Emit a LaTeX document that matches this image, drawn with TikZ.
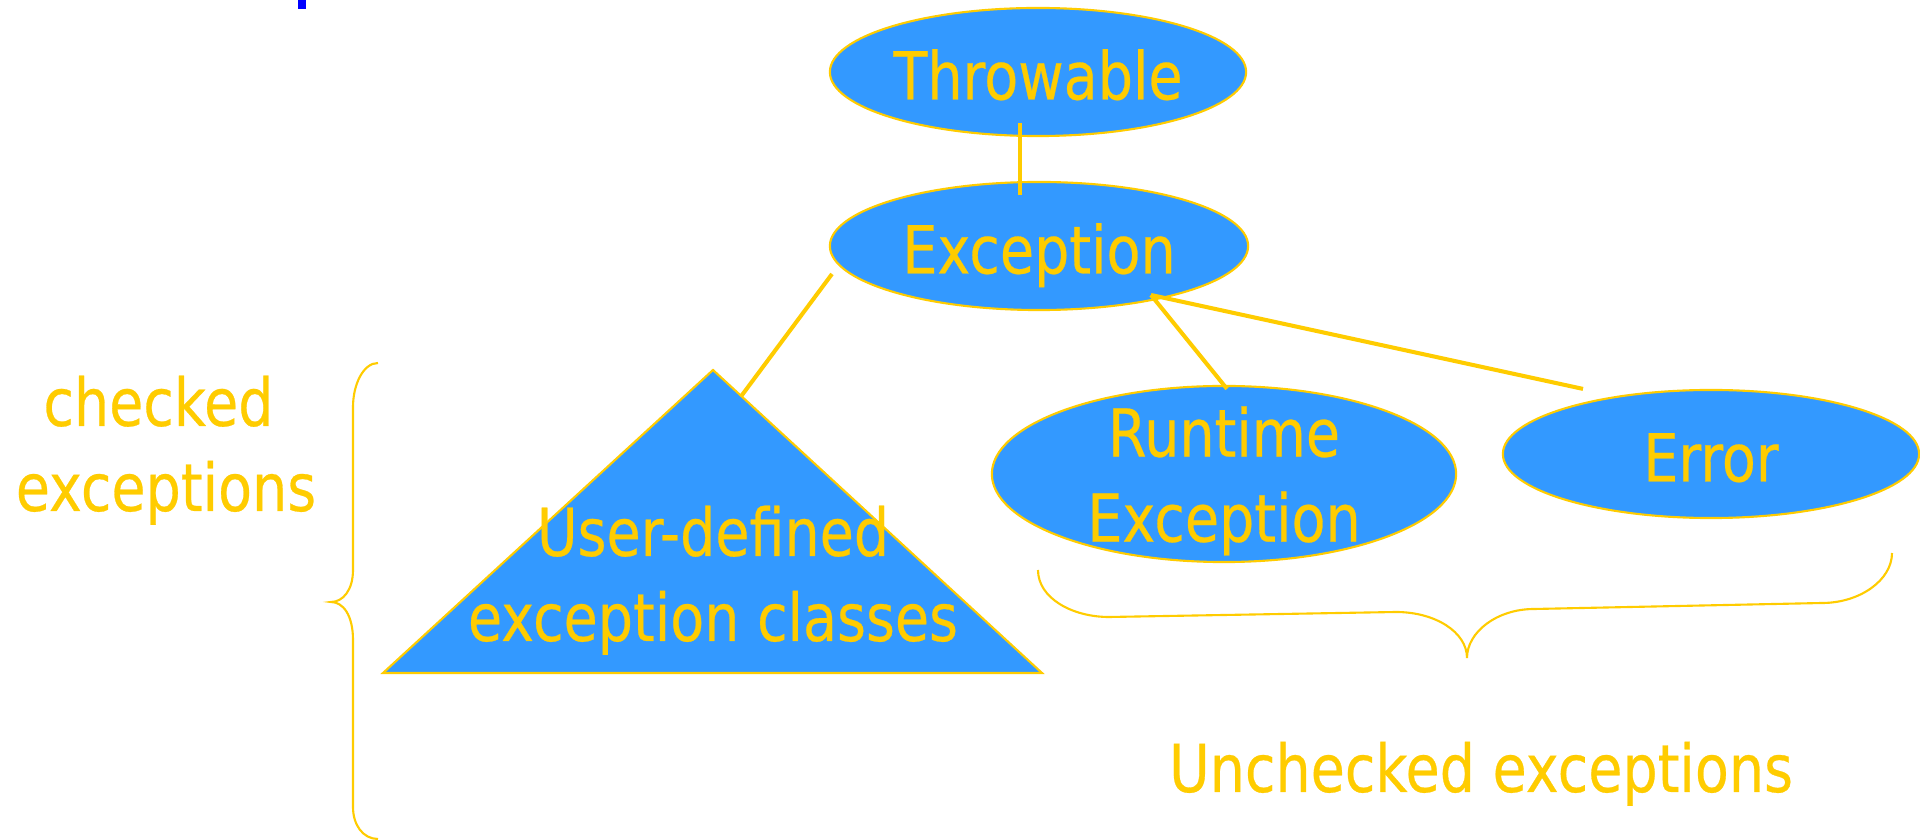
\documentclass[tikz,border=0pt]{standalone}
\usepackage{fontspec}
\setmainfont{DejaVu Sans}[FakeStretch=0.84,FakeBold=0.4]
\usetikzlibrary{shapes.geometric,calc}
\definecolor{fillblue}{HTML}{3399FF}
\definecolor{gold}{HTML}{FFCC00}
\definecolor{markblue}{HTML}{0000FF}
\newcommand\bigfont{\fontsize{18.8pt}{24.2pt}\selectfont}
\tikzset{
  cls/.style={ellipse, fill=fillblue, draw=gold, line width=0.6pt, inner sep=0pt,
              text=gold, font=\bigfont, text height=15.6pt, text depth=0pt},
  twoline/.style={align=center, text height=38.5pt, text depth=0pt, inner ysep=-14pt},
  link/.style={draw=gold, line width=1.15pt},
  bracepath/.style={draw=gold, line width=0.6pt},
  lbl/.style={text=gold, font=\bigfont, align=center, inner sep=0pt},
}
\begin{document}
\begin{tikzpicture}[x=0.01cm, y=-0.01cm]
\useasboundingbox (0,0) rectangle (1920,840);
\fill[white] (0,0) rectangle (1920,840);
% small blue mark at the top edge
\fill[markblue] (298,0) rectangle (306,9);

% triangle
\coordinate (apex) at (713,370);
\coordinate (bl) at (383,673);
\coordinate (br) at (1042,673);
\path[fill=fillblue, draw=gold, line width=0.6pt] (apex) -- (bl) -- (br) -- cycle;
\node[lbl, anchor=base] (ud) at (713,641) {User-defined\\exception classes};

% class ellipses
\node[cls, minimum width=4.16cm, minimum height=1.28cm] (thr) at (1038,72) {Throwable};
\node[cls, minimum width=4.18cm, minimum height=1.28cm] (exc) at (1039,246) {Exception};
\node[cls, twoline, minimum width=4.64cm, minimum height=1.76cm] (rt) at (1224,474) {Runtime\\Exception};
\node[cls, minimum width=4.16cm, minimum height=1.28cm] (err) at (1711,454) {Error};

% connectors
\coordinate (meet) at ($(exc.center)+(112,49)$);
\draw[link] ($(thr.south)+(-18,-14)$) -- ($(exc.north)+(-19,14)$);
\draw[link] ($(exc.center)+(-207,28)$) -- ($(apex)!0.086!(br)$);
\draw[link] ($(rt.north)+(3,4)$) -- (meet);
\draw[link] ($(err.north)+(-128,0)$) -- (meet);

% left brace
\draw[bracepath] (378,363) .. controls (363,363) and (353,385) .. (353,407)
  -- (353,570) .. controls (353,590) and (343,602) .. (331,602)
  .. controls (343,602) and (353,615) .. (353,640)
  -- (353,807) .. controls (353,825) and (363,839) .. (378,839);

% bottom brace
\draw[bracepath] (1038,570) .. controls (1038,598) and (1072,617) .. (1109,617)
  -- (1396,612) .. controls (1435,612) and (1467,632) .. (1467,658)
  .. controls (1467,632) and (1497,609) .. (1534,609)
  -- (1822,603) .. controls (1860,603) and (1892,580) .. (1892,553);

% labels
\node[lbl, anchor=base] (chk) at (166,511) {checked\hspace*{4.3pt}\\exceptions};
\node[lbl, anchor=base] (unc) at (1481,792) {Unchecked exceptions};
\end{tikzpicture}
\end{document}
